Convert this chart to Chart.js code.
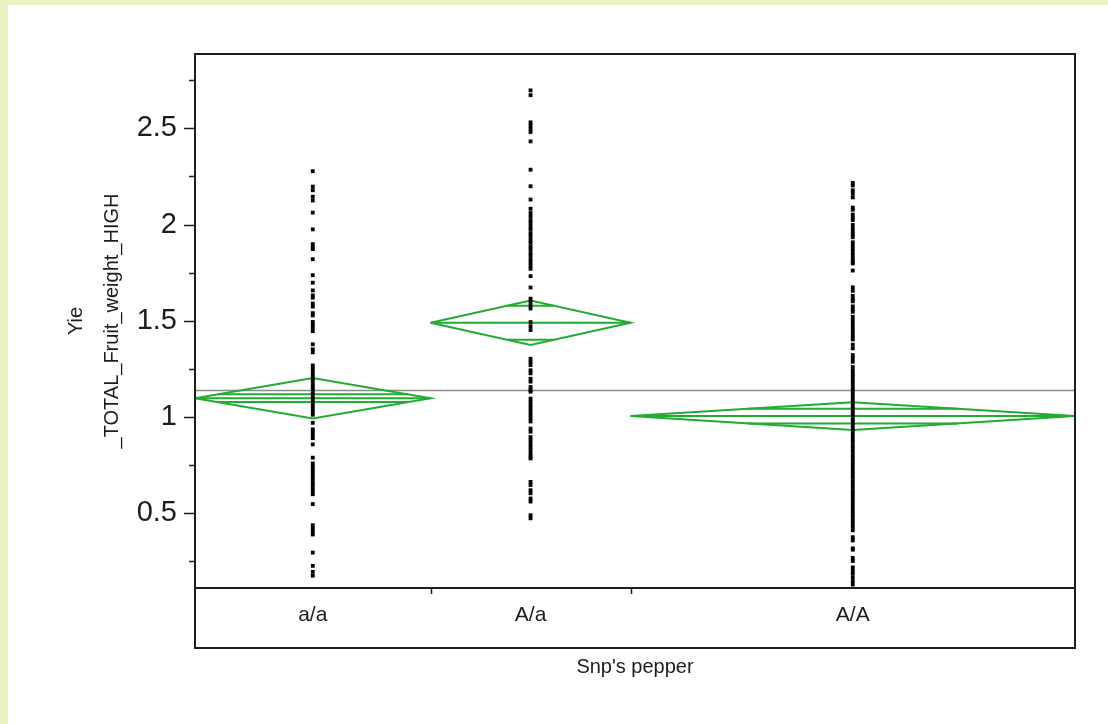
<!DOCTYPE html>
<html>
<head>
<meta charset="utf-8">
<script src="https://cdn.jsdelivr.net/npm/chart.js@4.4.1/dist/chart.umd.min.js"></script>
<style>
	html, body { margin: 0; padding: 0; }
	body { width: 1108px; height: 724px; background: #ecf3c2; position: relative; overflow: hidden; }
	#sheet { position: absolute; left: 8px; top: 5px; right: 0; bottom: 0; background: #fff; }
	#myChart { position: absolute; left: 0; top: 0; }
</style>
</head>
<body>
<div id="sheet"></div>
<canvas id="myChart" width="1108" height="724"></canvas>
<script>
// groups of the oneway plot (JMP draws each group as wide as its count)
const categories = ["a/a", "A/a", "A/A"]
const groupCounts = [53, 45, 100]

// means diamonds: mean, half height of the diamond, inner marks offset
const groupMeans = [1.098, 1.49, 1.005]
const ciHalf = [0.105, 0.115, 0.072]
const innerMarks = [0.02, 0.088, 0.038]
const grandMean = 1.138

const yRange = [0.112, 2.886]
const yLabelTicks = [0.5, 1, 1.5, 2, 2.5]
const yMinorTicks = [0.25, 0.75, 1.25, 1.75, 2.25, 2.75]

const pointsAa_lower = [2.277, 2.197, 2.178, 2.145, 2.125, 2.062, 1.975, 1.898, 1.881, 1.873, 1.820,
	1.737, 1.698, 1.658, 1.632, 1.620, 1.590, 1.574, 1.540, 1.528, 1.494, 1.478, 1.462, 1.446,
	1.378, 1.352, 1.336, 1.268, 1.251, 1.237, 1.220, 1.203, 1.189, 1.171, 1.156, 1.141, 1.123,
	1.109, 1.092, 1.077, 1.060, 1.043, 1.029, 1.012, 0.970, 0.936, 0.920, 0.905, 0.890, 0.858,
	0.789, 0.759, 0.744, 0.727, 0.711, 0.696, 0.679, 0.662, 0.648, 0.631, 0.614, 0.599, 0.548,
	0.438, 0.421, 0.406, 0.390, 0.296, 0.227, 0.196, 0.176]
const pointsAa_mixed = [2.697, 2.672, 2.531, 2.514, 2.497, 2.481, 2.432, 2.285, 2.199, 2.130, 2.082,
	2.060, 2.041, 2.022, 2.007, 1.988, 1.973, 1.954, 1.939, 1.920, 1.905, 1.886, 1.871, 1.852,
	1.837, 1.818, 1.803, 1.786, 1.770, 1.732, 1.673, 1.615, 1.598, 1.580, 1.564, 1.493, 1.472,
	1.452, 1.303, 1.286, 1.270, 1.243, 1.227, 1.199, 1.184, 1.156, 1.140, 1.132, 1.096, 1.079,
	1.062, 1.045, 1.028, 1.011, 0.994, 0.977, 0.940, 0.924, 0.896, 0.880, 0.862, 0.845, 0.828,
	0.811, 0.795, 0.785, 0.663, 0.647, 0.620, 0.604, 0.577, 0.561, 0.490, 0.474]
const pointsAA_upper = [2.216, 2.203, 2.178, 2.160, 2.141, 2.088, 2.077, 2.052, 2.035, 2.023, 1.998,
	1.980, 1.963, 1.947, 1.934, 1.908, 1.890, 1.873, 1.857, 1.839, 1.821, 1.806, 1.798, 1.761,
	1.674, 1.656, 1.629, 1.613, 1.601, 1.575, 1.560, 1.547, 1.521, 1.504, 1.487, 1.470, 1.453,
	1.436, 1.419, 1.403, 1.376, 1.357, 1.322, 1.305, 1.287, 1.260, 1.240, 1.224, 1.208, 1.190,
	1.175, 1.157, 1.141, 1.123, 1.106, 1.090, 1.072, 1.057, 1.039, 1.022, 1.006, 0.988, 0.973,
	0.955, 0.938, 0.921, 0.905, 0.887, 0.871, 0.853, 0.836, 0.820, 0.802, 0.786, 0.768, 0.751,
	0.735, 0.717, 0.701, 0.684, 0.666, 0.650, 0.633, 0.615, 0.599, 0.582, 0.565, 0.548, 0.531,
	0.514, 0.497, 0.481, 0.463, 0.447, 0.430, 0.412, 0.376, 0.359, 0.318, 0.311, 0.268, 0.252,
	0.219, 0.202, 0.186, 0.167, 0.148, 0.130]
const groupPoints = [pointsAa_lower, pointsAa_mixed, pointsAA_upper]

const FONT = "'Liberation Sans', Arial, sans-serif"
const TEXT = "#1c1c1c"
const GREEN = "rgb(34, 172, 50)"
const BAND = 60 // height of the category box under the plot

const total = groupCounts.reduce((a, b) => a + b, 0)
const bounds = []
let acc = 0
groupCounts.forEach(n => {
	bounds.push([acc, acc + n])
	acc += n
})
const centers = bounds.map(b => (b[0] + b[1]) / 2)

const datasets = []

// raw points
groupPoints.forEach((vals, i) => {
	datasets.push({
		data: vals.map(v => ({ x: centers[i], y: v })),
		pointStyle: "rect",
		pointRadius: 2.7,
		backgroundColor: "#000",
		borderWidth: 0,
		showLine: false,
		order: 0
	})
})

function segment(x1, x2, y, color, width, order) {
	return {
		data: [{ x: x1, y: y }, { x: x2, y: y }],
		showLine: true,
		borderColor: color,
		borderWidth: width,
		pointRadius: 0,
		order: order
	}
}

// means diamonds
categories.forEach((c, i) => {
	const [l, r] = bounds[i]
	const m = groupMeans[i]
	const h = ciHalf[i]
	const cx = centers[i]
	datasets.push({
		data: [{ x: l, y: m }, { x: cx, y: m + h }, { x: r, y: m }, { x: cx, y: m - h }, { x: l, y: m }],
		showLine: true,
		borderColor: GREEN,
		borderWidth: 2,
		pointRadius: 0,
		tension: 0,
		order: 1
	})
	datasets.push(segment(l, r, m, GREEN, 2, 1))
	// inner marks reach the diamond edges
	const k = 1 - innerMarks[i] / h
	const half = (r - l) / 2 * k
	datasets.push(segment(cx - half, cx + half, m + innerMarks[i], GREEN, 2, 1))
	datasets.push(segment(cx - half, cx + half, m - innerMarks[i], GREEN, 2, 1))
})

datasets.push(segment(0, total, grandMean, "rgb(140, 140, 140)", 1.5, 2))

const framePlugin = {
	id: "jmpFrame",
	afterDraw(chart) {
		const { ctx, chartArea: a } = chart
		const x = chart.scales.x
		const y = chart.scales.y
		ctx.save()
		ctx.strokeStyle = "#1e1e1e"
		ctx.lineWidth = 2
		ctx.strokeRect(a.left, a.top, a.right - a.left, a.bottom + BAND - a.top)
		ctx.beginPath()
		ctx.moveTo(a.left, a.bottom)
		ctx.lineTo(a.right, a.bottom)
		ctx.stroke()

		ctx.lineWidth = 1.5
		bounds.slice(1).forEach(b => {
			const px = Math.round(x.getPixelForValue(b[0])) + 0.5
			ctx.beginPath()
			ctx.moveTo(px, a.bottom)
			ctx.lineTo(px, a.bottom + 6)
			ctx.stroke()
		})

		// y tick marks, long for labelled, short for minor
		const tick = (v, len) => {
			const py = Math.round(y.getPixelForValue(v)) + 0.5
			ctx.beginPath()
			ctx.moveTo(a.left - len, py)
			ctx.lineTo(a.left, py)
			ctx.stroke()
		}
		yLabelTicks.forEach(v => tick(v, 11))
		yMinorTicks.forEach(v => tick(v, 6))
		ctx.restore()
	}
}

new Chart("myChart", {
	type: "scatter",
	data: { datasets: datasets },
	options: {
		responsive: false,
		animation: false,
		devicePixelRatio: 1,
		layout: { padding: { left: 40, top: 54, right: 33, bottom: 36 } },
		plugins: {
			legend: { display: false },
			tooltip: { enabled: false }
		},
		scales: {
			x: {
				type: "linear",
				min: 0,
				max: total,
				grid: { display: false, drawTicks: false },
				border: { display: false },
				afterBuildTicks: scale => {
					scale.ticks = centers.map(v => ({ value: v }))
				},
				afterFit: scale => {
					scale.height = 100
				},
				ticks: {
					autoSkip: false,
					maxRotation: 0,
					padding: 15,
					color: TEXT,
					font: { family: FONT, size: 21 },
					callback: (v, i) => categories[i]
				},
				title: {
					display: true,
					text: "Snp's pepper",
					color: TEXT,
					font: { family: FONT, size: 20 },
					padding: { top: 0, bottom: 9 }
				}
			},
			y: {
				min: yRange[0],
				max: yRange[1],
				grid: { display: false, drawTicks: false },
				border: { display: false },
				afterBuildTicks: scale => {
					scale.ticks = yLabelTicks.map(v => ({ value: v }))
				},
				afterFit: scale => {
					scale.width = 155
				},
				ticks: {
					padding: 18,
					color: TEXT,
					font: { family: FONT, size: 29 },
					callback: v => String(v)
				},
				title: {
					display: true,
					text: ["Yie", "_TOTAL_Fruit_weight_HIGH"],
					color: TEXT,
					font: { family: FONT, size: 20, lineHeight: 1.8 },
					padding: { top: 18, bottom: 0 }
				}
			}
		}
	},
	plugins: [framePlugin]
})
</script>
</body>
</html>
